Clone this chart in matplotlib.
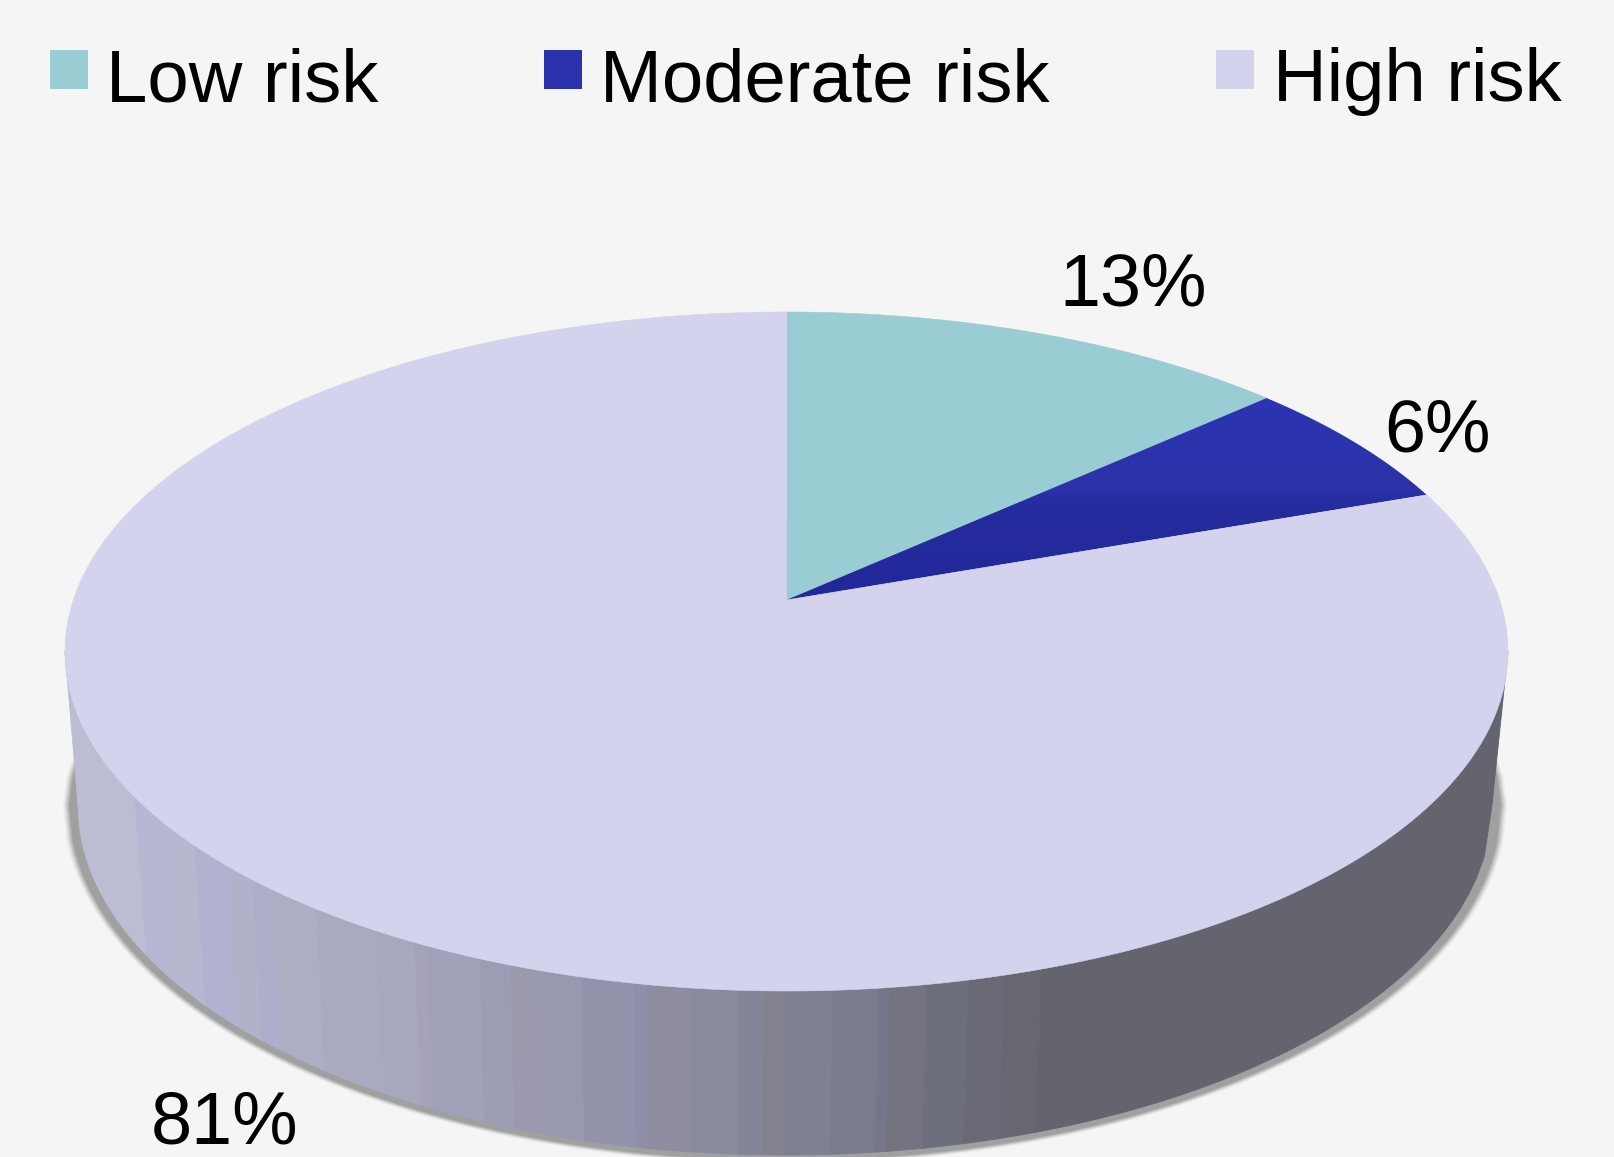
import numpy as np
import matplotlib
matplotlib.use('Agg')
import matplotlib.pyplot as plt
from matplotlib.patches import Polygon, Rectangle
from matplotlib.colors import LinearSegmentedColormap

plt.rcParams['font.family'] = ['Liberation Sans', 'DejaVu Sans']

#data
categories = ['Low risk', 'Moderate risk', 'High risk']
values = [13.3, 6.3, 80.4]  #slightly finer than the rounded labels
pct_labels = ['13%', '6%', '81%']
colors = ['#99cdd3', '#2a33ad', '#d3d3ee']

#shading bands on the side of the pie (left edge x of each band, colour)
band_edges = [135, 160, 195, 228, 253, 273, 317, 377, 415, 427, 480, 511, 538, 582,
              634, 647, 693, 739, 764, 785, 833, 879, 890, 927, 969, 1005, 1042]
band_colors = ['#bcbdd3', '#b6b7d3', '#b7b8d0', '#b1b2cf', '#b1b2ca', '#adaeca', '#adadc4',
               '#a9aac0', '#a7a8be', '#a5a3b8', '#a1a1b9', '#9c9cb5', '#9b99ad', '#9898b0',
               '#9292ab', '#8f8fa9', '#8e8ca0', '#8a8a9f', '#858599', '#858290', '#7f8091',
               '#7a7b8b', '#757689', '#737480', '#6e6f7d', '#6a6a76', '#676772', '#64646e']

bg = '#f5f5f5'

#pie geometry in pixels
cx, cy, a, b = 786.5, 651.5, 721.5, 339.5   #top face
apex_shift = 0.1517                         #perspective shift of the centre
cx2, cy2, a2, b2 = 785.0, 805.0, 707.0, 350.0  #bottom rim


def rim(pct):
    #point on the top rim, pct measured clockwise from 12 o'clock
    t = np.asarray(pct)/100*2*np.pi
    X, Y = np.sin(t), np.cos(t)
    c = apex_shift
    u = X*np.sqrt(1 - c**2)/(1 + c*Y)
    v = (Y + c)/(1 + c*Y)
    return cx + a*u, cy - b*v


fig = plt.figure(figsize=(16.14, 11.57), dpi=100, facecolor=bg)
ax = fig.add_axes([0, 0, 1, 1])

#shadow under the pie, stacked layers to fake the blur
uu = np.linspace(-1, 1, 400)
for grow, alpha in zip([15, 13.5, 12, 10.5, 9], [0.06, 0.10, 0.14, 0.18, 0.20]):
    sa, sb = a2 + grow, b2 + grow*0.6
    sx = np.concatenate([cx2 + sa*uu, cx2 + sa*uu[::-1]])
    sy = np.concatenate([cy2 + sb*np.sqrt(1 - uu**2), cy2 - 280*np.sqrt(1 - uu[::-1]**2)])
    ax.add_patch(Polygon(np.c_[sx, sy], closed=True, fc='#555555', ec='none', alpha=alpha, zorder=1))

#side of the pie, one polygon per shading band
edges = [cx - a] + band_edges + [cx + a]
for i in range(len(band_colors)):
    u = np.linspace((edges[i] - cx)/a, (edges[i + 1] - cx)/a, 60)
    top_x, top_y = cx + a*u, cy + b*np.sqrt(1 - u**2)
    bot_x, bot_y = cx2 + a2*u, cy2 + b2*np.sqrt(1 - u**2)
    xs = np.concatenate([top_x, bot_x[::-1]])
    ys = np.concatenate([top_y, bot_y[::-1]])
    ax.add_patch(Polygon(np.c_[xs, ys], closed=True, fc=band_colors[i], ec=band_colors[i],
                         lw=0.6, zorder=2))

#top face, wedges computed from the values
apex = (cx, cy - b*apex_shift)
start = 0
for i, val in enumerate(values):
    pcts = np.linspace(start, start + val, 400)
    rx, ry = rim(pcts)
    verts = np.vstack([apex, np.c_[rx, ry]])
    if i == 1:
        #moderate slice has a vertical gradient
        cmap = LinearSegmentedColormap.from_list(
            'mod', [(0, '#2c35b2'), (0.44, '#2a33a8'), (0.54, '#252c9e'), (1, '#22289a')])
        grad = np.linspace(0, 1, 256)[:, None]
        im = ax.imshow(grad, cmap=cmap, extent=[apex[0], rx.max(), apex[1], ry.min()],
                       aspect='auto', zorder=3, origin='upper')
        poly = Polygon(verts, closed=True, fc='none', ec='none')
        ax.add_patch(poly)
        im.set_clip_path(poly)
    else:
        ax.add_patch(Polygon(verts, closed=True, fc=colors[i], ec=colors[i], lw=0.4, zorder=3))
    start += val

#percent labels
ax.text(1133, 306, pct_labels[0], fontsize=53, ha='center', va='baseline', color='black', zorder=5)
ax.text(1438, 452, pct_labels[1], fontsize=53, ha='center', va='baseline', color='black', zorder=5)
ax.text(225, 1144, pct_labels[2], fontsize=53, ha='center', va='baseline', color='black', zorder=5)

#legend
swatch_x = [50, 544, 1216]
text_x = [106, 600, 1273]
for i in range(3):
    ax.add_patch(Rectangle((swatch_x[i], 50), 38, 39, fc=colors[i], ec='none', zorder=4))
    ax.text(text_x[i], 101, categories[i], fontsize=53.5, ha='left', va='baseline', color='black', zorder=5)

ax.set_xlim(0, 1614)
ax.set_ylim(1157, 0)
ax.axis('off')

fig.savefig('out.png', dpi=100, facecolor=bg)
